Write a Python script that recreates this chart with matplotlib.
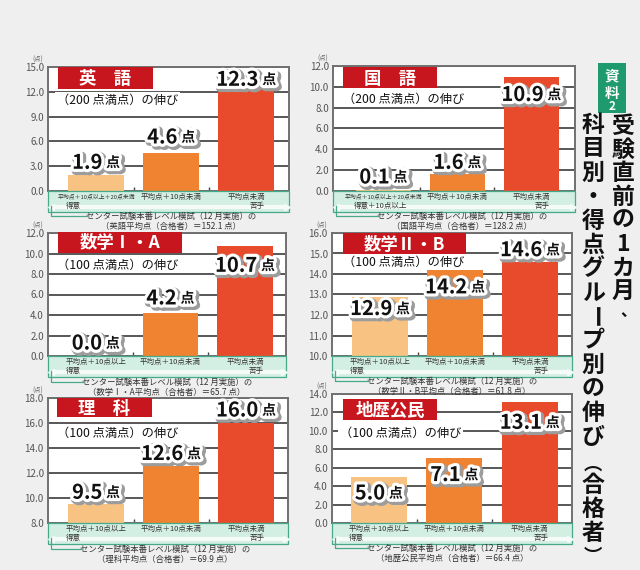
import matplotlib
matplotlib.use('Agg')
import matplotlib.pyplot as plt
import matplotlib.patheffects as pe
import matplotlib.transforms as mtransforms
from matplotlib.patches import Rectangle
from matplotlib.lines import Line2D

plt.rcParams['font.family'] = ['Noto Sans CJK JP', 'DejaVu Sans']

# ---------------- data ----------------
subjects = ['英　語', '国　語', '数学Ⅰ・A', '数学Ⅱ・B', '理　科', '地歴公民']
subject_names = ['英語', '国語', '数学Ⅰ・A', '数学Ⅱ・B', '理科', '地歴公民']
full_marks = [200, 200, 100, 100, 100, 100]
avg_scores = ['152.1', '128.2', '65.7', '61.8', '69.9', '66.4']

eng_gain = [1.9, 4.6, 12.3]
jpn_gain = [0.1, 1.6, 10.9]
math1a_gain = [0.0, 4.2, 10.7]
math2b_gain = [12.9, 14.2, 14.6]
sci_gain = [9.5, 12.6, 16.0]
soc_gain = [5.0, 7.1, 13.1]

eng_ticks = [0.0, 3.0, 6.0, 9.0, 12.0, 15.0]
jpn_ticks = [0.0, 2.0, 4.0, 6.0, 8.0, 10.0, 12.0]
math1a_ticks = [0.0, 2.0, 4.0, 6.0, 8.0, 10.0, 12.0]
math2b_ticks = [10.0, 11.0, 12.0, 13.0, 14.0, 15.0, 16.0]
sci_ticks = [8.0, 10.0, 12.0, 14.0, 16.0, 18.0]
soc_ticks = [0.0, 2.0, 4.0, 6.0, 8.0, 10.0, 12.0, 14.0]

groups_wide = ['平均点＋10点以上＋20点未満', '平均点＋10点未満', '平均点未満']
groups = ['平均点＋10点以上', '平均点＋10点未満', '平均点未満']
left_ends = ['得意', '得意＋10点以上', '得意', '得意', '得意', '得意']
right_end = '苦手'

title_right = '受験直前の1カ月、'
title_left = '科目別・得点グループ別の伸び（合格者）'
badge = '資料2'

gains = [eng_gain, jpn_gain, math1a_gain, math2b_gain, sci_gain, soc_gain]
ticks = [eng_ticks, jpn_ticks, math1a_ticks, math2b_ticks, sci_ticks, soc_ticks]
cat_labels = [groups_wide, groups_wide, groups, groups, groups, groups]

# ---------------- layout / style (pixels) ----------------
W, H = 640, 570
layout = [
    dict(ax=(48, 67, 289, 191), xlim=(-0.64, 2.57), tbox=(58, 67, 153, 89), sub=(57, 100), foot=(171, 216), offs=[13, 16, 10]),
    dict(ax=(333, 66, 575, 191), xlim=(-0.68, 2.59), tbox=(343, 67, 437, 88), sub=(343, 99), foot=(462, 216), offs=[13, 12, -17]),
    dict(ax=(48, 233, 286, 356), xlim=(-0.64, 2.55), tbox=(58, 232, 182, 253), sub=(57, 265), foot=(167, 382), offs=[13, 15, -19]),
    dict(ax=(332, 233, 572, 356), xlim=(-0.64, 2.56), tbox=(343, 233, 466, 254), sub=(343, 262), foot=(452, 381), offs=[-12, -17, 12]),
    dict(ax=(48, 398, 288, 523), xlim=(-0.64, 2.56), tbox=(57, 398, 152, 417), sub=(57, 433), foot=(165, 549), offs=[12, 12, 13]),
    dict(ax=(332, 394, 572, 523), xlim=(-0.62, 2.56), tbox=(343, 399, 437, 420), sub=(340, 433), foot=(452, 548), offs=[-16, -17, -20]),
]
bar_colors = ['#f8c283', '#ef8332', '#e84b2c']
bg = '#efefef'
red = '#c8161e'
mint = '#d3eee2'
teal = '#45a98a'


def fx(x):
    return x / W


def fy(y):
    return 1 - y / H


fig = plt.figure(figsize=(6.4, 5.7), dpi=100)
fig.patch.set_facecolor(bg)
renderer = fig.canvas.get_renderer()
PT = 72.0 / 100.0  # px -> points

num_effects = [pe.Stroke(linewidth=6, foreground='#9c9c9c', offset=(1.5, -1.5)),
               pe.Stroke(linewidth=4.5, foreground='white'), pe.Normal()]

for k in range(6):
    L = layout[k]
    l, t, r, b = L['ax']
    ax = fig.add_axes([fx(l), fy(b), fx(r - l), (b - t) / H])
    ax.set_facecolor('white')
    tk = ticks[k]
    ax.set_ylim(tk[0], tk[-1])
    ax.set_xlim(*L['xlim'])
    ax.set_yticks(tk)
    ax.set_yticklabels([f'{v:.1f}' for v in tk], fontsize=7, color='#555555')
    ax.set_xticks([])
    ax.set_xticks([0.5, 1.5], minor=True)
    ax.tick_params(axis='x', which='minor', direction='in', length=3, width=1, color='#444444')
    ax.tick_params(axis='y', length=0, pad=3)
    ax.yaxis.grid(True, color='#4a4a4a', linewidth=1.3)
    ax.set_axisbelow(True)
    for s in ax.spines.values():
        s.set_color('#707070')
        s.set_linewidth(1.4)

    xs = [0, 1, 2]
    ax.bar(xs, gains[k], width=0.74, color=bar_colors, zorder=3)

    # unit label
    fig.text(fx(l - 10), fy(t - 7), '(点)', fontsize=4.5, color='#666666', ha='center', va='center')

    # value labels
    for i, v in enumerate(gains[k]):
        dy = L['offs'][i] * PT
        t1 = ax.annotate(f'{v:.1f}', xy=(i, v), xytext=(0, dy), textcoords='offset points',
                         ha='left', va='center', fontsize=14.5, fontweight='bold', color='#111111',
                         zorder=6, annotation_clip=False, path_effects=num_effects)
        t2 = ax.annotate('点', xy=(i, v), xytext=(0, dy - 0.5), textcoords='offset points',
                         ha='left', va='center', fontsize=10, fontweight='bold', color='#111111',
                         zorder=6, annotation_clip=False, path_effects=num_effects)
        w1 = t1.get_window_extent(renderer).width
        w2 = t2.get_window_extent(renderer).width
        gap = 4
        total = w1 + gap + w2
        t1.xyann = (-total / 2 * PT, dy)
        t2.xyann = ((-total / 2 + w1 + gap) * PT, dy - 0.5)

    # title box
    x0, y0, x1, y1 = L['tbox']
    fig.add_artist(Rectangle((fx(x0), fy(y1)), fx(x1 - x0), (y1 - y0) / H,
                             transform=fig.transFigure, facecolor=red, edgecolor='none', zorder=5))
    fig.text(fx((x0 + x1) / 2), fy((y0 + y1) / 2 + 1), subjects[k], fontsize=12.5, fontweight='bold',
             color='white', ha='center', va='center', zorder=6)

    # subtitle
    sx, sy = L['sub']
    fig.text(fx(sx), fy(sy), f'（{full_marks[k]} 点満点）の伸び', fontsize=8.8, color='#111111',
             ha='left', va='center', zorder=6,
             bbox=dict(facecolor='white', edgecolor='none', pad=1.2))

    # category band
    band_h = 21
    fig.add_artist(Rectangle((fx(l), fy(b + band_h)), fx(r - l), band_h / H,
                             transform=fig.transFigure, facecolor=mint, edgecolor=teal,
                             linewidth=0.9, zorder=2))
    fig.add_artist(Line2D([fx(l + 6), fx(r - 4)], [fy(b + band_h - 5)] * 2, transform=fig.transFigure,
                          color='#f4fbf8', linewidth=3, zorder=2.5))
    fig.add_artist(Line2D([fx(l + 3)], [fy(b + band_h - 5)], transform=fig.transFigure, marker='<',
                          markersize=5, color='#f4fbf8', linestyle='none', zorder=2.5))
    fig.add_artist(Line2D([fx(r - 2)], [fy(b + band_h - 5)], transform=fig.transFigure, marker='>',
                          markersize=5, color='#f4fbf8', linestyle='none', zorder=2.5))
    trans = mtransforms.blended_transform_factory(ax.transData, fig.transFigure)
    for i, lab in enumerate(cat_labels[k]):
        fs = 4.2 if len(lab) > 10 else 5.4
        fig.text(i, fy(b + 6), lab, transform=trans, fontsize=fs, color='#333333',
                 ha='center', va='center', zorder=6)
    fig.text(-0.4, fy(b + 15), left_ends[k], transform=trans, fontsize=5.4, color='#333333',
             ha='left', va='center', zorder=6)
    fig.text(2.25, fy(b + 15), right_end, transform=trans, fontsize=5.4, color='#333333',
             ha='right', va='center', zorder=6)

    # footer
    cx, fy1 = L['foot']
    fig.text(fx(cx), fy(fy1), 'センター試験本番レベル模試（12 月実施）の', fontsize=6, color='#333333',
             ha='center', va='center')
    fig.text(fx(cx), fy(fy1 + 10.5), f'（{subject_names[k]}平均点（合格者）＝{avg_scores[k]} 点）',
             fontsize=6, color='#333333', ha='center', va='center')
    fig.add_artist(Line2D([fx(l + 3), fx(l + 3), fx(cx - 84)],
                          [fy(b + band_h - 6), fy(fy1), fy(fy1)],
                          transform=fig.transFigure, color=teal, linewidth=0.9, zorder=2.6))

# ---------------- right title column ----------------
fig.add_artist(Rectangle((fx(598), fy(113)), fx(28), 50 / H, transform=fig.transFigure,
                         facecolor='#1f9a6e', edgecolor='none'))
for ch, yy, fs in zip(badge, [75.5, 92.5, 106.5], [10.5, 10.5, 8.5]):
    fig.text(fx(612), fy(yy), ch, fontsize=fs, fontweight='bold',
             color='white', ha='center', va='center')

VERT = {'（': ('︵', 3), '）': ('︶', -1)}


def vertical_text(s, xc, ytop, pitch, size):
    for i, ch in enumerate(s):
        yc = ytop + (i + 0.5) * pitch
        rot = 0
        dx, dyy = 0, 0
        fs = size
        if ch in VERT:
            ch, dyy = VERT[ch]
            fs = size * 0.8
        elif ch == 'ー':
            rot = -90
        elif ch == '、':
            dx, dyy = 5, -4
            fs = size * 0.7
        fig.text(fx(xc + dx), fy(yc + dyy), ch, fontsize=fs, fontweight='bold', color='#111111',
                 ha='center', va='center', rotation=rot, rotation_mode='anchor')


vertical_text(title_right, 623, 115, 23.5, 16.5)
vertical_text(title_left, 593, 113, 24.0, 16.5)

fig.savefig('out.png', dpi=100, facecolor=bg)
